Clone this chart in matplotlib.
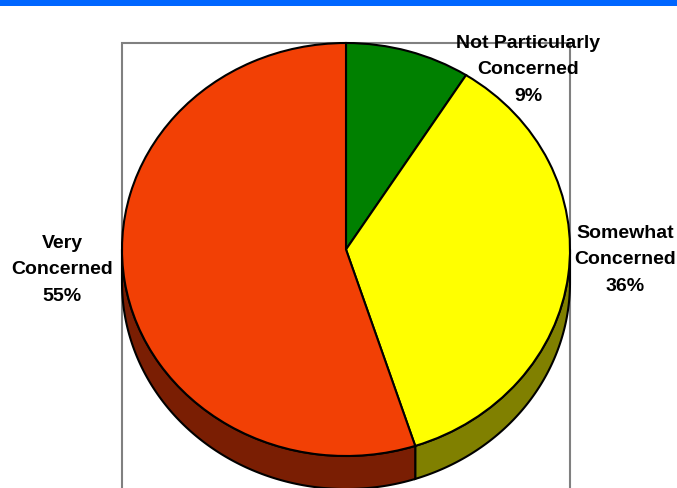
import matplotlib
matplotlib.use("Agg")
import matplotlib.pyplot as plt
import numpy as np
from matplotlib.patches import Rectangle, Polygon

# slices go clockwise from 12 o'clock
labels = ["Not Particularly\nConcerned", "Somewhat\nConcerned", "Very\nConcerned"]
shares = [9, 36, 55]
top_colors = ["#008000", "#FFFF00", "#F24005"]
side_colors = ["#004000", "#808000", "#7A1E03"]
label_pos = [(528, 70), (625, 260), (62, 270)]   # pixel centres of the label blocks

plt.rcParams['font.family'] = ['Liberation Sans', 'DejaVu Sans']

W, H = 677, 489
fig = plt.figure(figsize=(W / 100, H / 100), dpi=100)
ax = fig.add_axes([0, 0, 1, 1])

# pie top face: centre and radii in pixels
cx, cy = 346, 250.5
rx, ry = 224, 206.5
depth = 0.16   # thickness of the side, in radius units

wedges, _ = ax.pie(shares, colors=top_colors, startangle=90, counterclock=False,
                   wedgeprops=dict(edgecolor='black', linewidth=1.5), frame=True)
ax.set_aspect('auto')
ax.set_xlim((0 - cx) / rx, (W - cx) / rx)
ax.set_ylim((cy - H) / ry, cy / ry)
ax.axis('off')

# side of the pie (only the front half shows)
edges = 90 - 360 * np.concatenate([[0], np.cumsum(shares)]) / sum(shares)
for i in range(len(shares)):
    a_hi, a_lo = edges[i], edges[i + 1]
    for k in (-1, 0, 1):
        lo = max(a_lo, -180 + 360 * k)
        hi = min(a_hi, 0 + 360 * k)
        if hi <= lo:
            continue
        t = np.radians(np.linspace(lo, hi, 120))
        top = np.column_stack([np.cos(t), np.sin(t)])
        bot = np.column_stack([np.cos(t), np.sin(t) - depth])
        ax.add_patch(Polygon(np.vstack([top, bot[::-1]]), closed=True,
                             facecolor=side_colors[i], edgecolor='black',
                             linewidth=1.5, zorder=0.5))

# plot area frame
ax.add_patch(Rectangle((-1, -3), 2, 4, fill=False, edgecolor='#808080',
                       linewidth=1.5, zorder=0.2, clip_on=False))

# blue strip at the top
fig.patches.append(Rectangle((0, 1 - 7 / H), 1, 7 / H, transform=fig.transFigure,
                             facecolor='#0066FF', edgecolor='none'))

for lab, s, (px, py) in zip(labels, shares, label_pos):
    fig.text(px / W, 1 - py / H, f"{lab}\n{s}%", ha='center', va='center',
             fontsize=14, fontweight='bold', linespacing=1.75)

fig.savefig("out.png", dpi=100)
